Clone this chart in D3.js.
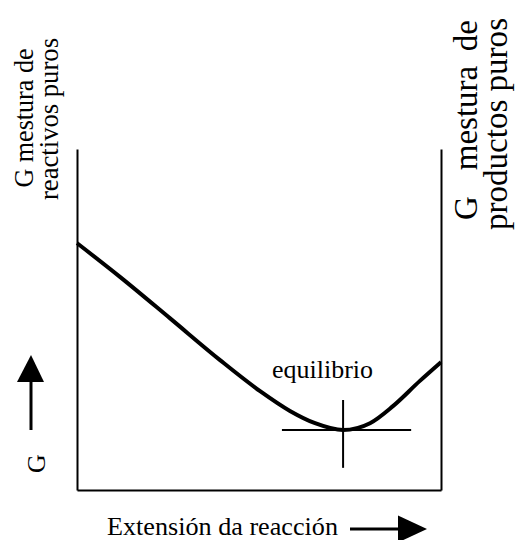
<!DOCTYPE html>
<html>
<head>
<meta charset="utf-8">
<script src="https://cdn.jsdelivr.net/npm/d3@7"></script>
</head>
<body style="margin:0">
<div id="chart"></div>
<script>
// extension of reaction (0 = pure reactants, 1 = pure products) and G
var extent = [0, 0.118, 0.255, 0.393, 0.503, 0.585, 0.654, 0.731, 0.805, 0.868, 0.942, 1.0];
var gibbs  = [0.724, 0.625, 0.504, 0.381, 0.290, 0.232, 0.196, 0.176, 0.196, 0.246, 0.320, 0.375];

// equilibrium point and the span of the cross drawn on it
var eqPoint = [0.731, 0.176];
var eqSpanX = [0.563, 0.918];
var eqSpanG = [0.065, 0.264];

var labelX = 'Extensión da reacción';
var labelY = 'G';
var labelEq = 'equilibrio';
var labelLeft = ['G mestura de', 'reactivos puros'];
var labelRight = [['G', 'mestura', 'de'], 'productos puros'];

var width = 518, height = 540;

var svg = d3.select('#chart')
	.append('svg')
	.attr('width', width)
	.attr('height', height);

var x = d3.scaleLinear().domain([0, 1]).range([77, 441]);
var y = d3.scaleLinear().domain([0, 1]).range([490, 149]);

// frame: only the domain lines, no ticks
svg.append('g')
	.attr('transform', 'translate(' + x(0) + ',0)')
	.call(d3.axisLeft(y).tickValues([]).tickSizeOuter(0));
svg.append('g')
	.attr('transform', 'translate(' + x(1) + ',0)')
	.call(d3.axisRight(y).tickValues([]).tickSizeOuter(0));
svg.append('g')
	.attr('transform', 'translate(0,' + y(0) + ')')
	.call(d3.axisBottom(x).tickValues([]).tickSizeOuter(0));
svg.selectAll('.domain').attr('stroke', '#000').attr('stroke-width', 2);

// G curve
var data = extent.map(function (e, i) { return { e: e, g: gibbs[i] }; });
var line = d3.line()
	.x(function (d) { return x(d.e); })
	.y(function (d) { return y(d.g); })
	.curve(d3.curveMonotoneX);

svg.append('path')
	.datum(data)
	.attr('d', line)
	.attr('fill', 'none')
	.attr('stroke', '#000')
	.attr('stroke-width', 4)
	.attr('stroke-linejoin', 'round');

// equilibrium cross
svg.append('line')
	.attr('x1', x(eqSpanX[0])).attr('x2', x(eqSpanX[1]))
	.attr('y1', y(eqPoint[1])).attr('y2', y(eqPoint[1]))
	.attr('stroke', '#000').attr('stroke-width', 2);
svg.append('line')
	.attr('x1', x(eqPoint[0])).attr('x2', x(eqPoint[0]))
	.attr('y1', y(eqSpanG[0])).attr('y2', y(eqSpanG[1]))
	.attr('stroke', '#000').attr('stroke-width', 2);

function label(parent, size) {
	return parent.append('text')
		.attr('font-size', size)
		.style('font-family', '"Liberation Serif"')
		.style('fill', '#000');
}

label(svg, 25)
	.attr('x', 272)
	.attr('y', 378)
	.attr('textLength', 101)
	.attr('lengthAdjust', 'spacingAndGlyphs')
	.text(labelEq);

// x label with arrow
label(svg, 26)
	.attr('x', 107)
	.attr('y', 535)
	.attr('textLength', 231)
	.attr('lengthAdjust', 'spacingAndGlyphs')
	.text(labelX);
svg.append('line')
	.attr('x1', 350).attr('x2', 400)
	.attr('y1', 529).attr('y2', 529)
	.attr('stroke', '#000').attr('stroke-width', 3);
svg.append('path')
	.attr('d', 'M398,515.5L427,529L398,542.5Z')
	.attr('fill', '#000');

// y label with arrow
label(svg, 26)
	.attr('transform', 'translate(45,463.5) rotate(-90)')
	.attr('text-anchor', 'middle')
	.text(labelY);
svg.append('line')
	.attr('x1', 31).attr('x2', 31)
	.attr('y1', 430).attr('y2', 380)
	.attr('stroke', '#000').attr('stroke-width', 3);
svg.append('path')
	.attr('d', 'M17,382L31,355L44,382Z')
	.attr('fill', '#000');

// left: pure reactants
label(svg, 27)
	.attr('transform', 'translate(33,118) rotate(-90)')
	.attr('text-anchor', 'middle')
	.attr('textLength', 139)
	.attr('lengthAdjust', 'spacingAndGlyphs')
	.text(labelLeft[0]);
label(svg, 27)
	.attr('transform', 'translate(58,119) rotate(-90)')
	.attr('text-anchor', 'middle')
	.attr('textLength', 162)
	.attr('lengthAdjust', 'spacingAndGlyphs')
	.text(labelLeft[1]);

// right: pure products, first line justified word by word
var rightWords = svg.append('g')
	.attr('transform', 'translate(477,220) rotate(-90)');
label(rightWords, 33).attr('x', 0).text(labelRight[0][0]);
label(rightWords, 33).attr('x', 102).attr('text-anchor', 'middle').text(labelRight[0][1]);
label(rightWords, 33).attr('x', 200).attr('text-anchor', 'end').text(labelRight[0][2]);

label(svg, 33)
	.attr('transform', 'translate(507,230) rotate(-90)')
	.attr('textLength', 212)
	.attr('lengthAdjust', 'spacingAndGlyphs')
	.text(labelRight[1]);
</script>
</body>
</html>
